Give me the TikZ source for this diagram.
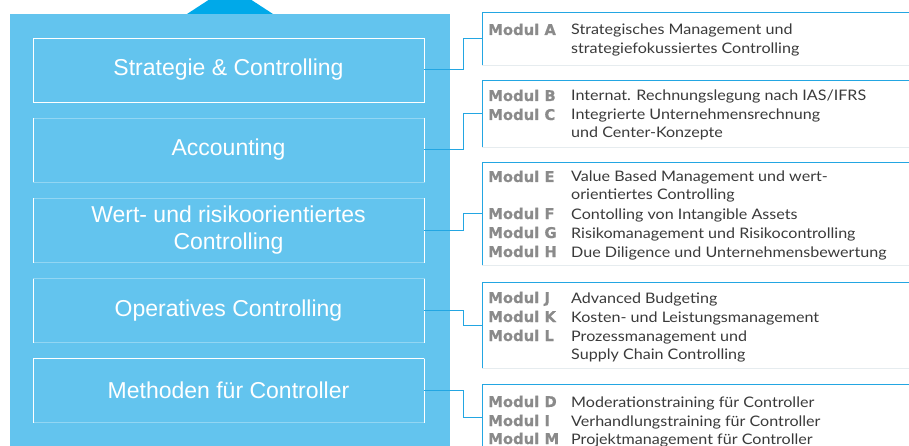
\documentclass[tikz,border=0pt]{standalone}
\usepackage{fontspec}
\setsansfont{Liberation Sans}
\newfontfamily\lblfont{DejaVu Sans}[FakeBold=0.6]
\newfontfamily\descfont{Lato}[FakeStretch=1.11]
\definecolor{panelblue}{HTML}{63C4EE}
\definecolor{triblue}{HTML}{00A9E9}
\definecolor{connblue}{HTML}{23A6E2}
\definecolor{faintline}{HTML}{E6ECEF}
\definecolor{lblgray}{HTML}{8A8A8A}
\definecolor{descgray}{HTML}{3A3A3A}
\begin{document}
\begin{tikzpicture}[x=1pt,y=-1pt,
  catbox/.style={minimum width=391pt,minimum height=64pt,inner sep=0pt,outer sep=0pt,
    text=white,font=\sffamily\fontsize{23}{27}\selectfont,align=center,
    draw=white!30!panelblue,line width=0.8pt},
  modbox/.style={minimum width=427pt,inner sep=0pt,outer sep=0pt,anchor=north west},
  conn/.style={draw=connblue,line width=1pt},
  sideline/.style={draw=white,line width=0.8pt},
  lbl/.style={anchor=base west,inner sep=0pt,text=lblgray,font=\lblfont\bfseries\fontsize{14.8}{18}\selectfont},
  desc/.style={anchor=base west,inner sep=0pt,text=descgray,font=\descfont\fontsize{14.5}{18}\selectfont}]
\useasboundingbox (0,0) rectangle (909,446);
\clip (0,0) rectangle (909,446);
% panel and triangle
\fill[triblue] (187,14) -- (230,-14) -- (273,14) -- cycle;
\fill[panelblue] (10,14) rectangle (450,446);
% category boxes
\node[catbox,draw=white] (b1) at (228.5,70) {Strategie \& Controlling};
\node[catbox] (b2) at (228.5,150) {Accounting};
\node[catbox] (b3) at (228.5,230.5) {Wert- und risikoorientiertes\\Controlling};
\node[catbox] (b4) at (228.5,310.5) {Operatives Controlling};
\node[catbox] (b5) at (228.5,390.5) {Methoden für Controller};
\foreach \b in {b2,b3,b4,b5}{
  \draw[sideline] (\b.north west) -- (\b.south west);
  \draw[sideline] (\b.north east) -- (\b.south east);
}
\draw[sideline] (b5.north west) -- (b5.north east);
% module boxes
\node[modbox,minimum height=52pt] (m1) at (482,13) {};
\node[modbox,minimum height=66pt] (m2) at (482,81) {};
\node[modbox,minimum height=102pt] (m3) at (482,163) {};
\node[modbox,minimum height=86pt] (m4) at (482,282) {};
\node[modbox,minimum height=66pt] (m5) at (482,384) {};
\foreach \m in {m1,m2,m3,m4,m5}{
  \draw[faintline,line width=0.8pt] (\m.south west) -- (\m.south east);
  \draw[conn] (\m.south west) -- (\m.north west) -- (\m.north east);
}
% connectors
\foreach \b/\m in {b1/m1,b2/m2,b3/m3,b4/m4,b5/m5}{
  \draw[conn] (\b.east) -- ++(39,0) |- (\m.west);
}
% texts
\node[lbl] (la) at (488,35) {Modul A};
\node[desc] (da1) at (571,35) {Strategisches Management und};
\node[desc] (da2) at (571,54) {strategiefokussiertes Controlling};
\node[lbl] (lb) at (488,101) {Modul B};
\node[desc] (db) at (571,101) {Internat. Rechnungslegung nach IAS/IFRS};
\node[lbl] (lc) at (488,120) {Modul C};
\node[desc] (dc1) at (571,120) {Integrierte Unternehmensrechnung};
\node[desc] (dc2) at (571,138) {und Center-Konzepte};
\node[lbl] (le) at (488,182) {Modul E};
\node[desc] (de1) at (571,182) {Value Based Management und wert-};
\node[desc] (de2) at (571,200) {orientiertes Controlling};
\node[lbl] (lf) at (488,219) {Modul F};
\node[desc] (df) at (571,219) {Contolling von Intangible Assets};
\node[lbl] (lg) at (488,238) {Modul G};
\node[desc] (dg) at (571,238) {Risikomanagement und Risikocontrolling};
\node[lbl] (lh) at (488,257) {Modul H};
\node[desc] (dh) at (571,257) {Due Diligence und Unternehmensbewertung};
\node[lbl] (lj) at (488,303) {Modul J};
\node[desc] (dj) at (571,303) {Advanced Budgeting};
\node[lbl] (lk) at (488,322) {Modul K};
\node[desc] (dk) at (571,322) {Kosten- und Leistungsmanagement};
\node[lbl] (ll) at (488,341) {Modul L};
\node[desc] (dl1) at (571,341) {Prozessmanagement und};
\node[desc] (dl2) at (571,359) {Supply Chain Controlling};
\node[lbl] (ld) at (488,407) {Modul D};
\node[desc] (dd) at (571,407) {Moderationstraining für Controller};
\node[lbl] (li) at (488,426) {Modul I};
\node[desc] (di) at (571,426) {Verhandlungstraining für Controller};
\node[lbl] (lm) at (488,444) {Modul M};
\node[desc] (dm) at (571,444) {Projektmanagement für Controller};
\end{tikzpicture}
\end{document}
